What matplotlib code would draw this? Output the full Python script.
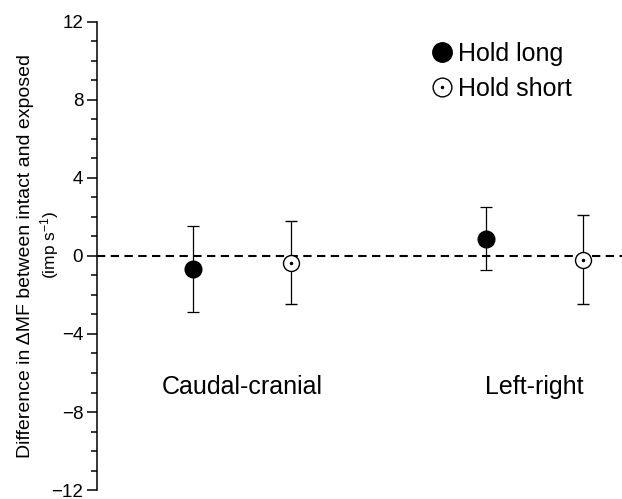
import matplotlib
matplotlib.use('Agg')
import matplotlib.pyplot as plt
from matplotlib.lines import Line2D
from matplotlib.legend_handler import HandlerTuple

plt.rcParams['font.family'] = ['Liberation Sans', 'DejaVu Sans']
plt.rcParams['mathtext.default'] = 'regular'
plt.rcParams['axes.unicode_minus'] = True

# Data
directions = ['Caudal-cranial', 'Left-right']
hold_long_mean = [-0.67, 0.89]
hold_long_sd = [2.22, 1.60]
hold_short_mean = [-0.34, -0.19]
hold_short_sd = [2.14, 2.27]
y_ticks = [-12, -8, -4, 0, 4, 8, 12]

offset = 0.167
x_pos = [1, 2]
x_long = [x - offset for x in x_pos]
x_short = [x + offset for x in x_pos]

fig = plt.figure(figsize=(6.22, 4.99), dpi=100)
ax = fig.add_axes([0.156, 0.018, 0.844, 0.938])

ax.axhline(0, color='black', lw=1.5, linestyle=(0, (4, 2.6)), zorder=1)

ax.errorbar(x_long, hold_long_mean, yerr=hold_long_sd, fmt='o', color='black',
            ms=12, mfc='black', mec='black', ecolor='black', elinewidth=0.9,
            capsize=4, capthick=0.9, zorder=3)
ax.errorbar(x_short, hold_short_mean, yerr=hold_short_sd, fmt='o', color='black',
            ms=11.5, mfc='white', mec='black', mew=1.0, ecolor='black', elinewidth=0.9,
            capsize=4, capthick=0.9, zorder=3)
ax.plot(x_short, hold_short_mean, 'o', color='black', ms=1.5, zorder=4)

for x, name in zip(x_pos, directions):
    ax.text(x, -6.73, name, ha='center', va='center', fontsize=18)

ax.set_xlim(0.503, 2.30)
ax.set_ylim(-12, 12)
ax.set_yticks(y_ticks)
ax.set_yticks(range(-12, 13), minor=True)
ax.set_xticks([])
for side in ['top', 'right', 'bottom']:
    ax.spines[side].set_visible(False)
ax.spines['left'].set_linewidth(1.1)
ax.tick_params(axis='y', which='major', length=7, width=1.1, pad=3, labelsize=13.5)
ax.tick_params(axis='y', which='minor', length=4, width=1.1)

fig.text(26 / 622, 1 - 256.5 / 499, 'Difference in \u0394MF between intact and exposed',
         rotation=90, ha='center', va='center', fontsize=14)
fig.text(50 / 622, 1 - 245 / 499, r'(imp s$^{-1}$)',
         rotation=90, ha='center', va='center', fontsize=12.5)

h_long = Line2D([], [], marker='o', ls='none', ms=14, mfc='black', mec='black')
h_short = Line2D([], [], marker='o', ls='none', ms=13.5, mfc='white', mec='black', mew=1.0)
h_dot = Line2D([], [], marker='o', ls='none', ms=1.5, color='black')
ax.legend([h_long, (h_short, h_dot)], ['Hold long', 'Hold short'],
          handler_map={tuple: HandlerTuple(ndivide=1)},
          loc='upper left', bbox_to_anchor=(419 / 622, 1 - 29 / 499),
          bbox_transform=fig.transFigure, frameon=False, fontsize=18,
          handlelength=0.8, handletextpad=0.25, labelspacing=0.45, borderpad=0)

fig.savefig('out.png', dpi=100)
